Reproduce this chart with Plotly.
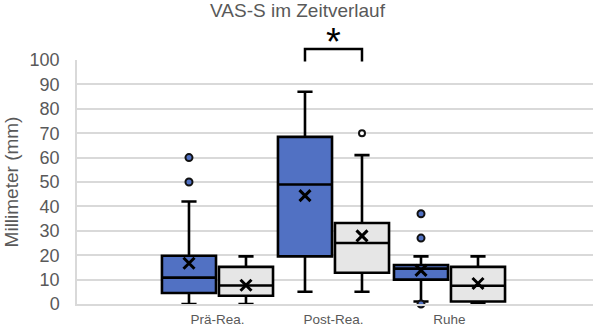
import plotly.graph_objects as go

# ---------------- data ----------------
categories = ["Prä-Rea.", "Post-Rea.", "Ruhe"]

a_q1 = [4.5, 19.5, 10.0]
a_median = [10.8, 49.0, 14.5]
a_q3 = [19.8, 68.5, 16.0]
a_lower = [0.0, 5.0, 1.0]
a_upper = [42.0, 87.0, 19.5]
a_mean = [16.7, 44.4, 13.8]
a_outliers = [[60.0, 50.0], [], [37.0, 27.0, 0.0]]

b_q1 = [3.4, 12.8, 1.0]
b_median = [7.6, 25.0, 7.5]
b_q3 = [15.2, 33.2, 15.2]
b_lower = [0.0, 5.0, 0.0]
b_upper = [19.5, 61.0, 19.5]
b_mean = [7.7, 27.9, 8.4]
b_outliers = [[], [70.0], []]

y_ticks = [0, 10, 20, 30, 40, 50, 60, 70, 80, 90, 100]

# ---------------- style ----------------
BLUE = "#5171c3"
GRAY = "#e6e6e6"
TXT = "#595959"
GRID = "#d9d9d9"
FONT = "Arial, Liberation Sans, sans-serif"

offset = 0.2457
box_w = 0.466

fig = go.Figure()

series = [
    (a_q1, a_median, a_q3, a_lower, a_upper, a_mean, a_outliers, BLUE, -offset, BLUE, 7),
    (b_q1, b_median, b_q3, b_lower, b_upper, b_mean, b_outliers, GRAY, offset, "white", 6),
]

for q1, med, q3, lo, up, mean, outl, fill, off, ofill, osz in series:
    for i in range(len(categories)):
        pos = i + off
        fig.add_trace(go.Box(
            x=[pos], q1=[q1[i]], median=[med[i]], q3=[q3[i]],
            lowerfence=[lo[i]], upperfence=[up[i]],
            width=box_w, whiskerwidth=0.28,
            fillcolor=fill, line=dict(color="black", width=2.6),
            boxpoints=False, showlegend=False, hoverinfo="skip",
        ))
        fig.add_trace(go.Scatter(
            x=[pos], y=[mean[i]], mode="markers", showlegend=False,
            marker=dict(symbol="x-thin", size=11, line=dict(color="black", width=3)),
            cliponaxis=False, hoverinfo="skip",
        ))
        if outl[i]:
            fig.add_trace(go.Scatter(
                x=[pos] * len(outl[i]), y=outl[i], mode="markers", showlegend=False,
                marker=dict(symbol="circle", size=osz, color=ofill,
                            line=dict(color="#111111", width=2)),
                cliponaxis=False, hoverinfo="skip",
            ))

# significance bracket between the two Post-Rea. boxes
c = 1
fig.add_shape(type="path", xref="x", yref="paper",
              path=f"M {c - offset},0.994 L {c - offset},1.045 L {c + offset},1.045 L {c + offset},0.994",
              line=dict(color="black", width=2.5))
fig.add_annotation(text="*", x=c, xref="x", y=0.979, yref="paper", yanchor="bottom",
                   showarrow=False, font=dict(size=38, color="black", family=FONT))

fig.update_layout(
    width=595, height=329,
    margin=dict(l=77, r=2, t=60, b=25),
    paper_bgcolor="white", plot_bgcolor="white",
    font=dict(family=FONT, color=TXT),
    title=dict(text="VAS-S im Zeitverlauf", x=0.5, xanchor="center",
               y=0.968, yanchor="middle", pad=dict(t=0, b=0),
               font=dict(size=19, color=TXT, family=FONT)),
    showlegend=False,
)

fig.update_xaxes(
    range=[-1.211, 3.237], tickvals=list(range(len(categories))), ticktext=categories,
    showgrid=False, zeroline=False, showline=True, linecolor=GRID, linewidth=2,
    layer="above traces", ticks="", tickfont=dict(size=13.5, color=TXT),
    ticklabelstandoff=2, automargin=False,
)
fig.update_yaxes(
    range=[0, 100], tickvals=y_ticks, showgrid=True, gridcolor=GRID, gridwidth=1.5,
    zeroline=False, showline=True, linecolor=GRID, linewidth=1.5,
    ticks="", tickfont=dict(size=18, color=TXT), ticklabelstandoff=12,
    automargin=False,
    title=dict(text="Millimeter (mm)", font=dict(size=19, color=TXT), standoff=6),
)

fig.write_html("out.html")
